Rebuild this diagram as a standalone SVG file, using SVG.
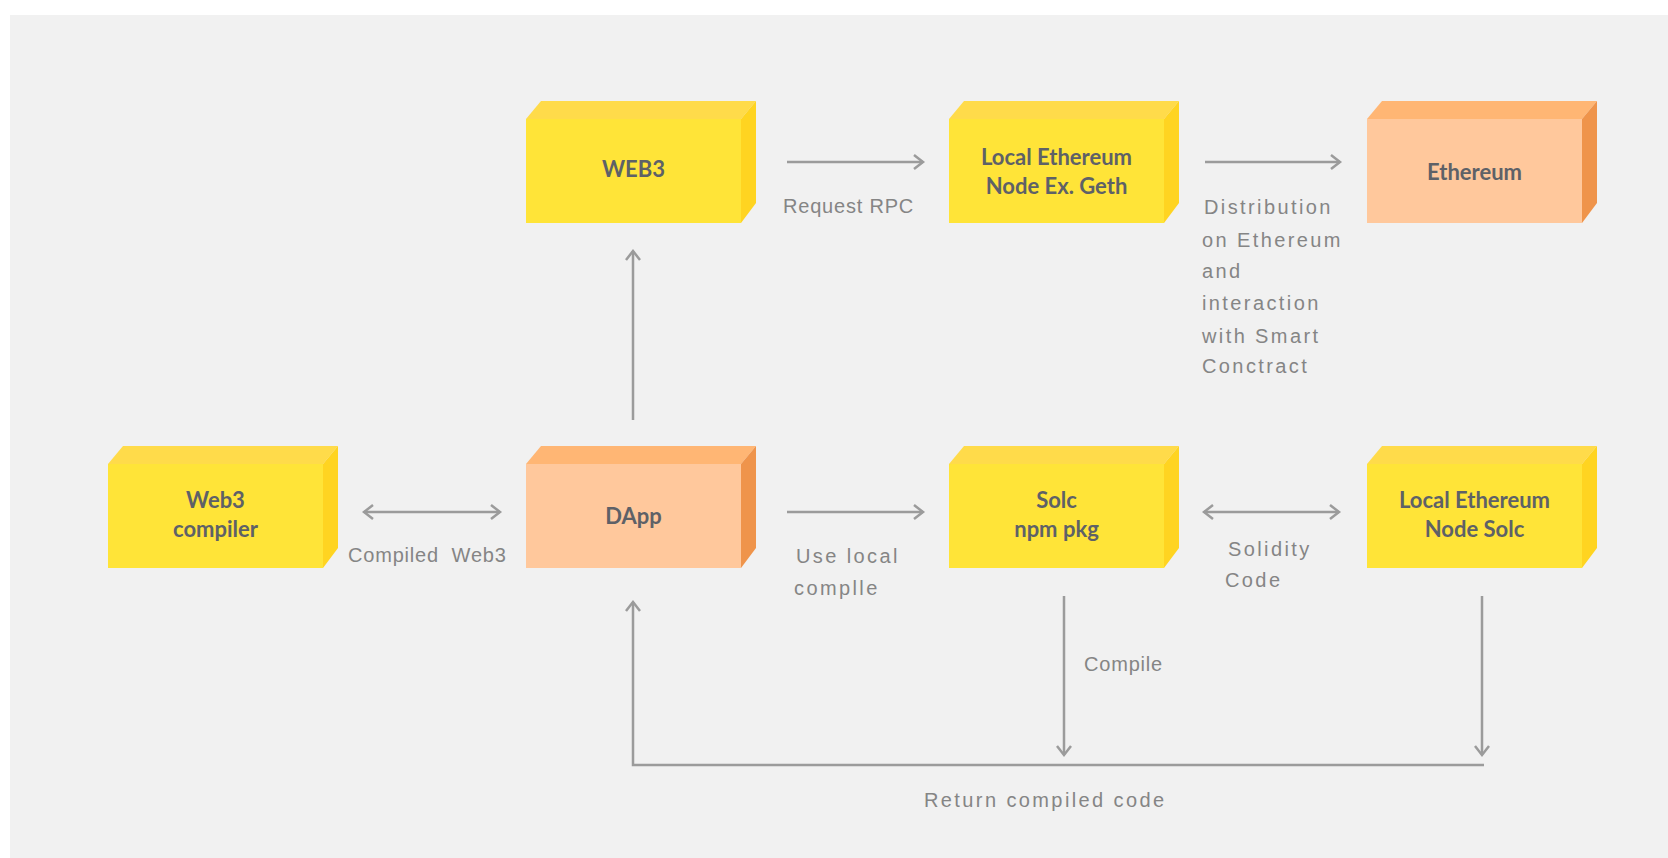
<svg xmlns="http://www.w3.org/2000/svg" width="1668" height="858" viewBox="0 0 1668 858">
<style>
.fy{fill:#FFE438}.ty{fill:#FFDB4A}.ry{fill:#FFD421}
.fo{fill:#FFC89C}.to{fill:#FFB674}.ro{fill:#EF944B}
.bt{font-family:Lato,"Noto Sans",sans-serif;font-weight:700;font-size:22px;fill:#5E6167;text-anchor:middle}
.lb{font-family:"Liberation Sans",Arial,sans-serif;font-size:20px;fill:#858585;letter-spacing:0.8px}
.lw{font-family:"Liberation Sans",Arial,sans-serif;font-size:20px;fill:#858585;letter-spacing:2.4px}
.cn{fill:none;stroke:#9B9B9B;stroke-width:2.5}
</style>
<defs>
<marker id="ah" markerUnits="userSpaceOnUse" markerWidth="14" markerHeight="18" viewBox="-11 -9 13 18" refX="0" refY="0" orient="auto-start-reverse">
<path d="M-9,-7 L0,0 L-9,7" fill="none" stroke="#9B9B9B" stroke-width="2.5"/>
</marker>
</defs>
<rect x="0" y="0" width="1668" height="858" fill="#FFFFFF"/>
<rect x="10" y="15" width="1658" height="843" fill="#F1F1F1"/>

<g id="web3">
<polygon class="ty" points="526,119 541,101 756,101 741,119"/>
<polygon class="ry" points="741,119 756,101 756,203 741,223"/>
<rect class="fy" x="526" y="119" width="215" height="104"/>
<text class="bt" x="633.5" y="177">WEB3</text>
</g>
<g id="geth">
<polygon class="ty" points="949,119 964,101 1179,101 1164,119"/>
<polygon class="ry" points="1164,119 1179,101 1179,203 1164,223"/>
<rect class="fy" x="949" y="119" width="215" height="104"/>
<text class="bt" x="1056.5" y="165">Local Ethereum</text>
<text class="bt" x="1056.5" y="194">Node Ex. Geth</text>
</g>
<g id="ethereum">
<polygon class="to" points="1367,119 1382,101 1597,101 1582,119"/>
<polygon class="ro" points="1582,119 1597,101 1597,203 1582,223"/>
<rect class="fo" x="1367" y="119" width="215" height="104"/>
<text class="bt" x="1474.5" y="180">Ethereum</text>
</g>
<g id="web3compiler">
<polygon class="ty" points="108,464 123,446 338,446 323,464"/>
<polygon class="ry" points="323,464 338,446 338,548 323,568"/>
<rect class="fy" x="108" y="464" width="215" height="104"/>
<text class="bt" x="215.5" y="508">Web3</text>
<text class="bt" x="215.5" y="537">compiler</text>
</g>
<g id="dapp">
<polygon class="to" points="526,464 541,446 756,446 741,464"/>
<polygon class="ro" points="741,464 756,446 756,548 741,568"/>
<rect class="fo" x="526" y="464" width="215" height="104"/>
<text class="bt" x="633.5" y="524">DApp</text>
</g>
<g id="solc">
<polygon class="ty" points="949,464 964,446 1179,446 1164,464"/>
<polygon class="ry" points="1164,464 1179,446 1179,548 1164,568"/>
<rect class="fy" x="949" y="464" width="215" height="104"/>
<text class="bt" x="1056.5" y="508">Solc</text>
<text class="bt" x="1056.5" y="537">npm pkg</text>
</g>
<g id="localsolc">
<polygon class="ty" points="1367,464 1382,446 1597,446 1582,464"/>
<polygon class="ry" points="1582,464 1597,446 1597,548 1582,568"/>
<rect class="fy" x="1367" y="464" width="215" height="104"/>
<text class="bt" x="1474.5" y="508">Local Ethereum</text>
<text class="bt" x="1474.5" y="537">Node Solc</text>
</g>

<g id="connectors">
<line class="cn" x1="787" y1="162" x2="923" y2="162" marker-end="url(#ah)"/>
<line class="cn" x1="1205" y1="162" x2="1340" y2="162" marker-end="url(#ah)"/>
<line class="cn" x1="633" y1="420" x2="633" y2="251" marker-end="url(#ah)"/>
<line class="cn" x1="364" y1="512" x2="500" y2="512" marker-start="url(#ah)" marker-end="url(#ah)"/>
<line class="cn" x1="787" y1="512" x2="923" y2="512" marker-end="url(#ah)"/>
<line class="cn" x1="1204" y1="512" x2="1339" y2="512" marker-start="url(#ah)" marker-end="url(#ah)"/>
<line class="cn" x1="1064" y1="596" x2="1064" y2="755" marker-end="url(#ah)"/>
<line class="cn" x1="1482" y1="596" x2="1482" y2="755" marker-end="url(#ah)"/>
<polyline class="cn" points="1484,765 633,765 633,602" marker-end="url(#ah)"/>
</g>

<g id="labels">
<text class="lb" x="783" y="213">Request RPC</text>
<text class="lw" x="1204" y="214">Distribution</text>
<text class="lw" x="1202" y="247">on Ethereum</text>
<text class="lw" x="1202" y="278">and</text>
<text class="lw" x="1202" y="310">interaction</text>
<text class="lw" x="1202" y="343">with Smart</text>
<text class="lw" x="1202" y="373">Conctract</text>
<text class="lb" x="348" y="562" xml:space="preserve">Compiled  Web3</text>
<text class="lw" x="796" y="563">Use local</text>
<text class="lw" x="794" y="595">complle</text>
<text class="lw" x="1228" y="556">Solidity</text>
<text class="lw" x="1225" y="587">Code</text>
<text class="lb" x="1084" y="671">Compile</text>
<text class="lw" x="924" y="807">Return compiled code</text>
</g>
</svg>
